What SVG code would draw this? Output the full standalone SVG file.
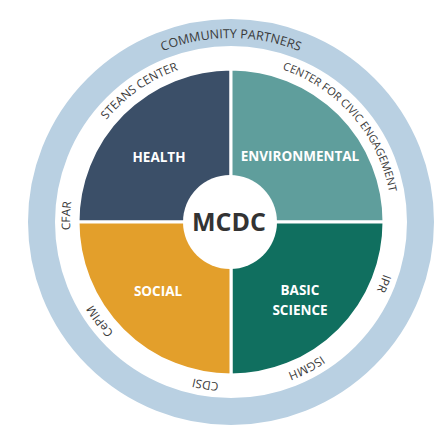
<svg xmlns="http://www.w3.org/2000/svg" xmlns:xlink="http://www.w3.org/1999/xlink" width="436" height="427" viewBox="0 0 436 427">
<style>
.q{stroke:#fff;stroke-width:3}
.ql{font-family:"Open Sans","Liberation Sans",sans-serif;font-weight:bold;font-size:13.5px;fill:#fff;text-anchor:middle}
.bl{font-family:"Open Sans","Liberation Sans",sans-serif;font-size:11.8px;fill:#3a3a3a;text-anchor:middle}
</style>
<defs>
<path id="band" d="M392,222 A161,161 0 1 1 70,222 A161,161 0 1 1 392,222"/>
<path id="ring" d="M415,222 A184,184 0 1 1 47,222 A184,184 0 1 1 415,222"/>
</defs>
<rect width="436" height="427" fill="#fff"/>
<g id="community-ring">
<circle cx="231" cy="222" r="189.5" fill="none" stroke="#b9d0e2" stroke-width="27"/>
<text class="bl" style="font-size:12.5px"><textPath xlink:href="#ring" href="#ring" startOffset="75%">COMMUNITY PARTNERS</textPath></text>
</g>
<g id="health">
<path class="q" d="M231,222 L78,222 A153,153 0 0 1 231,69 Z" fill="#3b4f68"/>
<text class="ql" x="159" y="162">HEALTH</text>
</g>
<g id="environmental">
<path class="q" d="M231,222 L231,69 A153,153 0 0 1 384,222 Z" fill="#5f9e9c"/>
<text class="ql" x="300" y="161">ENVIRONMENTAL</text>
</g>
<g id="basic-science">
<path class="q" d="M231,222 L384,222 A153,153 0 0 1 231,375 Z" fill="#106f5f"/>
<text class="ql" x="300" y="295">BASIC</text>
<text class="ql" x="300" y="315">SCIENCE</text>
</g>
<g id="social">
<path class="q" d="M231,222 L231,375 A153,153 0 0 1 78,222 Z" fill="#e39f2b"/>
<text class="ql" x="158" y="296">SOCIAL</text>
</g>
<g id="mcdc">
<circle cx="230" cy="222" r="47" fill="#fff"/>
<text x="229" y="231" text-anchor="middle" font-family="'Open Sans','Liberation Sans',sans-serif" font-weight="bold" font-size="25" fill="#333">MCDC</text>
</g>
<g id="partners">
<text class="bl"><textPath xlink:href="#band" href="#band" startOffset="6.1%">IPR</textPath></text>
<text class="bl"><textPath xlink:href="#band" href="#band" startOffset="17.4%">ISGMH</textPath></text>
<text class="bl"><textPath xlink:href="#band" href="#band" startOffset="27.5%">CDSI</textPath></text>
<text class="bl"><textPath xlink:href="#band" href="#band" startOffset="39.7%">CePIM</textPath></text>
<text class="bl"><textPath xlink:href="#band" href="#band" startOffset="50.6%">CFAR</textPath></text>
<text class="bl"><textPath xlink:href="#band" href="#band" startOffset="65.3%">STEANS CENTER</textPath></text>
<text class="bl" style="font-size:11px"><textPath xlink:href="#band" href="#band" startOffset="88.6%">CENTER FOR CIVIC ENGAGEMENT</textPath></text>
</g>
</svg>
